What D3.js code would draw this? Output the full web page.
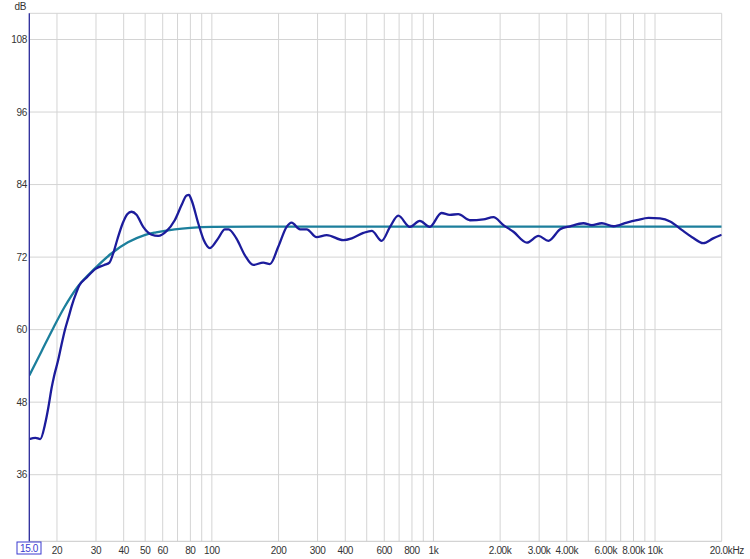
<!DOCTYPE html>
<html><head><meta charset="utf-8">
<script src="https://cdn.jsdelivr.net/npm/d3@7"></script>
<style>
html,body{margin:0;padding:0;background:#fff;}
svg text{font-family:"Liberation Sans",Arial,sans-serif;font-size:10px;letter-spacing:-0.35px;fill:#333;}
</style></head>
<body><svg id="c" width="750" height="559"></svg>
<script>
// Measured response (Hz, dB)
const measFreq = [15,16,16.8,17.7,18.3,18.9,19.4,20.2,20.9,21.7,22.7,23.3,24.5,25.2,27,30,32.7,34.5,36,37.5,39.6,41.5,43.4,45.7,49,53.5,57.3,62.4,68,73,76.9,78.8,81,86.8,92,98,106.8,114.4,119,129,141,153.7,170.6,182.9,199.4,217.5,229,250,268,297,330,392,428,483,527,584,637,694,783,868,963,1087,1185,1294,1461,1680,1865,2070,2297,2641,2979,3304,3731,4138,4752,5189,5753,6499,7463,8281,9352,10530,11700,13200,14700,16500,18300,20000];
const measDb   = [41.9,42.1,41.9,44.5,47.2,50.3,52.3,54.8,57.3,59.9,62.4,63.9,66.2,67.3,68.5,70.1,70.7,71.1,72.8,75.0,77.6,79.1,79.5,79.0,77.0,75.7,75.5,76.3,78.1,80.6,82.2,82.3,81.4,77.6,74.8,73.5,75.1,76.6,76.6,75.1,72.3,70.7,71.1,70.85,73.7,77.0,77.7,76.6,76.6,75.3,75.65,74.8,75.1,76.0,76.35,74.7,77.0,78.85,77.0,78.0,77.0,79.3,79.0,79.1,78.1,78.25,78.6,77.3,76.2,74.4,75.5,74.7,76.6,77.1,77.6,77.3,77.6,77.1,77.7,78.1,78.5,78.4,77.9,76.5,75.3,74.3,75.1,75.7];
// Target curve (Hz, dB)
const targFreq = [15,17,19.2,21.6,24.8,29.6,35.2,41.8,49.7,56,68,80,100,200,1000,10000,20000];
const targDb   = [52.4,56.35,60.2,63.7,67.1,70.1,72.6,74.45,75.65,76.1,76.6,76.85,77.0,77.05,77.05,77.05,77.05];

const gridFreqs = [20,30,40,50,60,70,80,90,100,200,300,400,500,600,700,800,900,1000,2000,3000,4000,5000,6000,7000,8000,9000,10000];
const xTickVals = [20,30,40,50,60,80,100,200,300,400,600,800,1000,2000,3000,4000,6000,8000,10000];
const xTickLabels = ["20","30","40","50","60","80","100","200","300","400","600","800","1k","2.00k","3.00k","4.00k","6.00k","8.00k","10k"];
const yTicks = [36,48,60,72,84,96,108];

const L=29.3,R=721.7,T=13.3,B=541.3;
const svg=d3.select("#c");
const x=d3.scaleLog().domain([15,20000]).range([L,R]);
const y=d3.scaleLinear().domain([108,36]).range([39.5,474.7]);

const g=svg.append("g");
// grid verticals
g.selectAll("line.vx").data(gridFreqs).join("line")
 .attr("x1",d=>x(d)).attr("x2",d=>x(d)).attr("y1",T).attr("y2",B)
 .attr("stroke","#d4d4d4").attr("stroke-width",1);
// grid horizontals
g.selectAll("line.hy").data(yTicks).join("line")
 .attr("x1",L).attr("x2",R).attr("y1",d=>y(d)).attr("y2",d=>y(d))
 .attr("stroke","#d4d4d4").attr("stroke-width",1);
// frame
g.append("line").attr("x1",L).attr("x2",R).attr("y1",T).attr("y2",T).attr("stroke","#d4d4d4");
g.append("line").attr("x1",L).attr("x2",R).attr("y1",B).attr("y2",B).attr("stroke","#c8c8c8");
g.append("line").attr("x1",R).attr("x2",R).attr("y1",T).attr("y2",B).attr("stroke","#d4d4d4");

// y labels
g.selectAll("text.yl").data(yTicks).join("text")
 .attr("x",27).attr("y",d=>y(d)).attr("dy","0.35em").attr("text-anchor","end").text(d=>d);
g.append("text").attr("x",26).attr("y",10).attr("text-anchor","end").text("dB");
// x labels
g.selectAll("text.xl").data(xTickVals).join("text")
 .attr("x",d=>x(d)).attr("y",554).attr("text-anchor","middle").text((d,i)=>xTickLabels[i]);
g.append("text").attr("x",x(20000)-12).attr("y",554).attr("text-anchor","start").text("20.0kHz");
// 15.0 box
g.append("rect").attr("x",17).attr("y",542).attr("width",24).attr("height",12)
 .attr("fill","#fff").attr("stroke","#3a3ad0").attr("stroke-width",1);
g.append("text").attr("x",29).attr("y",552).attr("text-anchor","middle").style("fill","#3a3ad0").text("15.0");

const clip=svg.append("clipPath").attr("id","cp").append("rect").attr("x",L).attr("y",T).attr("width",R-L).attr("height",B-T);
const line=d3.line().x(d=>x(d[0])).y(d=>y(d[1])).curve(d3.curveMonotoneX);
svg.append("path").attr("clip-path","url(#cp)")
 .attr("d",line(targFreq.map((f,i)=>[f,targDb[i]])))
 .attr("fill","none").attr("stroke","#1c7f9c").attr("stroke-width",2.3);
svg.append("path").attr("clip-path","url(#cp)")
 .attr("d",line(measFreq.map((f,i)=>[f,measDb[i]])))
 .attr("fill","none").attr("stroke","#1c1c9c").attr("stroke-width",2.3);
// left axis
svg.append("line").attr("x1",L).attr("x2",L).attr("y1",T).attr("y2",B).attr("stroke","#2a2a9a").attr("stroke-width",1.3);
</script></body></html>
